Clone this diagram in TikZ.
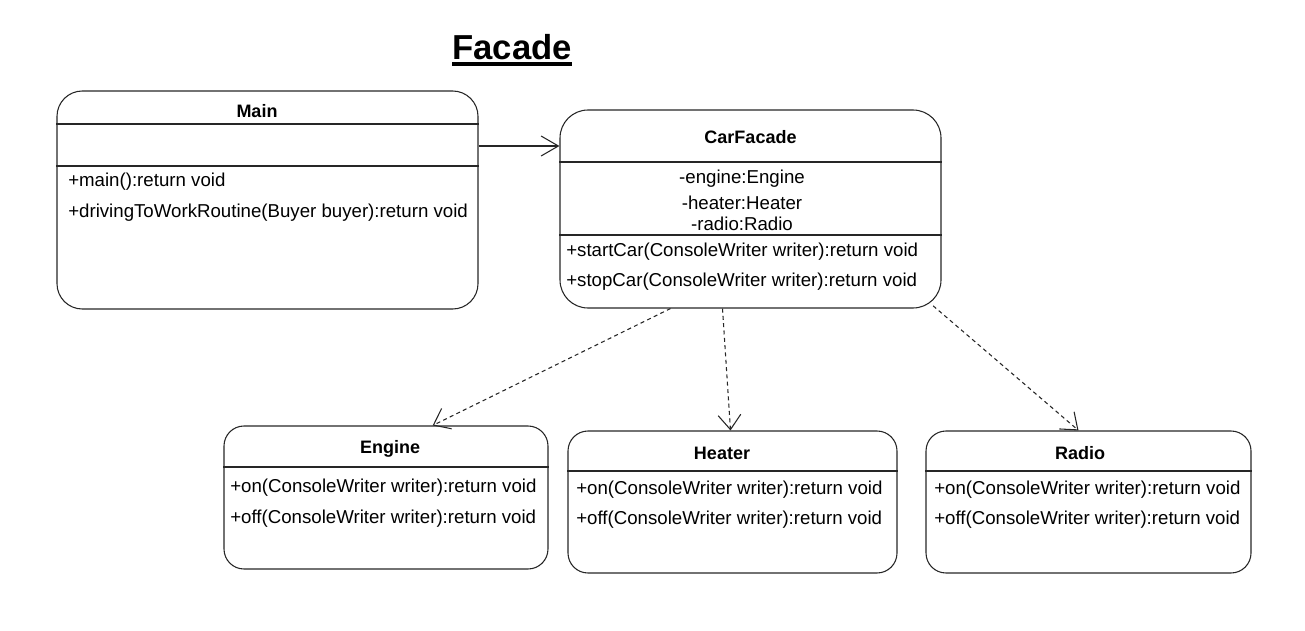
\documentclass[tikz,border=0pt]{standalone}
\usepackage{fontspec}
\setmainfont{Liberation Sans}
\usetikzlibrary{arrows.meta,calc}

\tikzset{
  classbox/.style={draw=black!85, line width=0.8pt, rounded corners=#1, inner sep=0pt},
  classname/.style={font=\fontsize{13.5}{16}\selectfont\bfseries, inner sep=0pt},
  member/.style={font=\fontsize{14}{16}\selectfont, anchor=west, inner sep=0pt},
  field/.style={font=\fontsize{14}{16}\selectfont, inner sep=0pt},
  sepline/.style={draw=black!85, line width=0.8pt},
  uses/.style={draw=black!85, line width=0.8pt, dash pattern=on 3pt off 2.5pt,
    -{Straight Barb[length=11pt,width=17pt]}},
  assoc/.style={draw=black!85, line width=0.8pt, -{Straight Barb[length=13pt,width=15pt]}}
}

\begin{document}
\begin{tikzpicture}[x=0.75pt,y=-0.75pt]
    \useasboundingbox (0,0) rectangle (1305,631);

    % Title
    \node[font=\fontsize{26}{31}\selectfont\bfseries, inner sep=0pt] (title) at (512,47) {Facade};
    \draw[line width=2.4pt] ([yshift=-3pt]title.south west) -- ([yshift=-3pt]title.south east);

    % Main class
    \node[classbox=19pt, minimum width=315.75pt, minimum height=163.5pt] (main) at (267.5,200) {};
    \node[classname] (mainname) at (257,111) {Main};
    \draw[sepline] (main.west |- 0,124) -- (main.east |- 0,124);
    \draw[sepline] (main.west |- 0,166) -- (main.east |- 0,166);
    \node[member] (mainm1) at (68,182) {+main():return void};
    \node[member] (mainm2) at (68,213) {+drivingToWorkRoutine(Buyer buyer):return void};

    % CarFacade class
    \node[classbox=21pt, minimum width=285.75pt, minimum height=148.5pt] (facade) at (750.5,209) {};
    \node[classname] (facadename) at (750.5,137) {CarFacade};
    \draw[sepline] (facade.west |- 0,162) -- (facade.east |- 0,162);
    \node[field] (facadef1) at (742,179) {-engine:Engine};
    \node[field] (facadef2) at (742,203) {-heater:Heater};
    \node[field] (facadef3) at (742,224) {-radio:Radio};
    \draw[sepline] (facade.west |- 0,235) -- (facade.east |- 0,235);
    \node[member] (facadem1) at (566,252) {+startCar(ConsoleWriter writer):return void};
    \node[member] (facadem2) at (566,282) {+stopCar(ConsoleWriter writer):return void};

    % Engine class
    \node[classbox=15pt, minimum width=243pt, minimum height=107.25pt] (engine) at (386,497.5) {};
    \node[classname] (enginename) at (390,449) {Engine};
    \draw[sepline] (engine.west |- 0,467) -- (engine.east |- 0,467);
    \node[member] (enginem1) at (230,488) {+on(ConsoleWriter writer):return void};
    \node[member] (enginem2) at (230,519) {+off(ConsoleWriter writer):return void};

    % Heater class
    \node[classbox=15pt, minimum width=246.75pt, minimum height=106.5pt] (heater) at (732.5,502) {};
    \node[classname] (heatername) at (722,453) {Heater};
    \draw[sepline] (heater.west |- 0,471) -- (heater.east |- 0,471);
    \node[member] (heaterm1) at (576,490) {+on(ConsoleWriter writer):return void};
    \node[member] (heaterm2) at (576,520) {+off(ConsoleWriter writer):return void};

    % Radio class
    \node[classbox=15pt, minimum width=243.75pt, minimum height=106.5pt] (radio) at (1088.5,502) {};
    \node[classname] (radioname) at (1080,453) {Radio};
    \draw[sepline] (radio.west |- 0,471) -- (radio.east |- 0,471);
    \node[member] (radiom1) at (934,490) {+on(ConsoleWriter writer):return void};
    \node[member] (radiom2) at (934,520) {+off(ConsoleWriter writer):return void};

    % Connectors
    \draw[assoc] (main.east |- 0,146) -- (facade.west |- 0,146);
    \draw[uses] ([xshift=-60pt]facade.south) -- ([xshift=35pt]engine.north);
    \draw[uses] ([xshift=-21pt]facade.south) -- ([xshift=-1.5pt]heater.north);
    \draw[uses] ([xshift=137pt,yshift=2pt]facade.south) -- ([xshift=-7.5pt]radio.north);

\end{tikzpicture}
\end{document}
